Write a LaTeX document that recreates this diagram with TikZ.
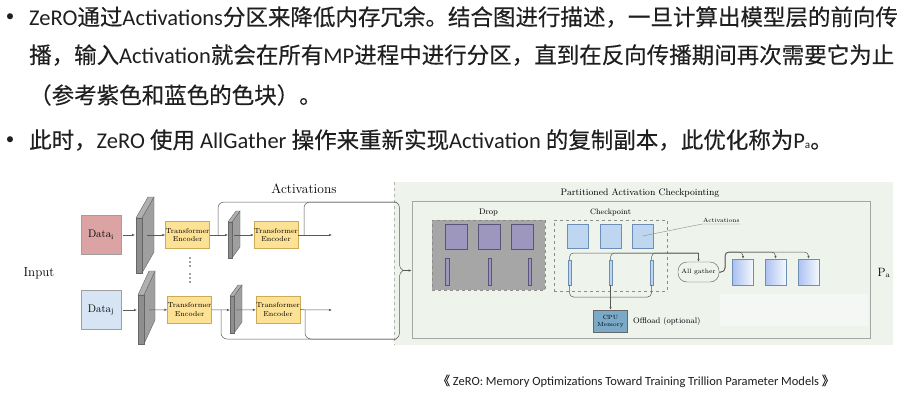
\documentclass[tikz,border=0pt]{standalone}
\usepackage{fontspec}
\newfontfamily\cjk[FakeBold=0.3]{Noto Sans CJK SC}
\newfontfamily\lat{Carlito}
\usetikzlibrary{arrows.meta,calc,decorations.pathreplacing}
\definecolor{datapink}{RGB}{219,163,163}
\definecolor{datablue}{RGB}{214,228,243}
\definecolor{teyellow}{RGB}{253,226,150}
\definecolor{teedge}{RGB}{205,170,85}
\definecolor{slabgray}{RGB}{142,142,142}
\definecolor{greenbg}{RGB}{238,243,236}
\definecolor{dropgray}{RGB}{166,166,166}
\definecolor{purp}{RGB}{157,150,190}
\definecolor{purpedge}{RGB}{90,85,120}
\definecolor{cblue}{RGB}{190,214,240}
\definecolor{cbedge}{RGB}{110,143,181}
\definecolor{cpublue}{RGB}{122,170,200}
\newcommand{\lmf}[1]{\fontsize{#1}{#1}\selectfont}
% thin box seen in perspective: x, y, width, height, dx, dy
\newcommand{\slab}[6]{%
\filldraw[draw=black!60, fill=slabgray!85] (#1+#3,#2) -- ++(#5,-#6) -- ++(0,#4) -- ++(-#5,#6) -- cycle;
\filldraw[draw=black!60, fill=slabgray!70] (#1,#2) -- ++(#5,-#6) -- ++(#3,0) -- ++(-#5,#6) -- cycle;
\filldraw[draw=black!60, fill=slabgray] (#1,#2) rectangle ++(#3,#4);}

\begin{document}
\begin{tikzpicture}[x=1pt,y=-1pt,
  conn/.style={draw=black!65, line width=0.5pt},
  >={Latex[length=3pt,width=2.4pt]},
  toptxt/.style={anchor=west, inner sep=0, text=black!88, font=\cjk\fontsize{22.5}{27}\selectfont},
  bullet/.style={inner sep=0, text=black!88, font=\lat\fontsize{17}{20}\selectfont},
  databox/.style={draw=gray!75, minimum width=40, minimum height=39, inner sep=0, font=\fontsize{11}{13}\selectfont},
  tebox/.style={draw=teedge, fill=teyellow, minimum width=44, minimum height=27, inner sep=0, align=center, font=\fontsize{7.2}{8.6}\selectfont},
  psq/.style={draw=purpedge, fill=purp, minimum width=22, minimum height=25, inner sep=0},
  pbar/.style={draw=purpedge, fill=purp, minimum width=3.5, minimum height=27, inner sep=0},
  bsq/.style={draw=cbedge, fill=cblue, minimum width=21.5, minimum height=24.5, inner sep=0},
  bbar/.style={draw=cbedge, fill=cblue, minimum width=3.5, minimum height=25, inner sep=0},
  gbox/.style={draw=cbedge, left color=cblue!90!blue, right color=white!85!cblue, minimum width=21, minimum height=26, inner sep=0}]
\useasboundingbox (0,0) rectangle (910,394);
\fill[white] (0,0) rectangle (910,394);

% text above the figure
\node[bullet] (b1) at (10,18) {•};
\node[toptxt] (l1) at (29,17) {{\lat ZeRO}通过{\lat Activations}分区来降低内存冗余。结合图进行描述，一旦计算出模型层的前向传};
\node[toptxt] (l2) at (29,55) {播，输入{\lat Activation}就会在所有{\lat MP}进程中进行分区，直到在反向传播期间再次需要它为止};
\node[toptxt] (l3) at (29,95) {（参考紫色和蓝色的色块）。};
\node[bullet] (b2) at (10,141) {•};
\node[toptxt] (l4) at (29,140) {此时，{\lat ZeRO} 使用 {\lat AllGather} 操作来重新实现{\lat Activation} 的复制副本，此优化称为{\lat P{\fontsize{11}{11}\selectfont a}}。};

% right part background first
\fill[greenbg] (394,182) rectangle (893,345);
\draw[dashed, black!30] (394,182) -- (394,345);

% left part: inputs and encoders
\node[font=\lmf{13}] (input) at (39,273) {Input};
\node[databox, fill=datapink] (di) at (101,235) {Data$_{\mathrm{i}}$};
\node[databox, fill=datablue] (dj) at (101,310) {Data$_{\mathrm{j}}$};
\node[font=\lmf{13.5}] (acts) at (304,189) {Activations};
\slab{136}{218}{6}{55}{12}{21}
\slab{138}{295}{6}{49}{11}{24}
\slab{228}{222}{4}{36}{8}{11}
\slab{230}{296}{4}{37}{8}{11}
\node[tebox] (te1) at (187.5,235) {Transformer\\Encoder};
\node[tebox] (te2) at (276,235) {Transformer\\Encoder};
\node[tebox] (te3) at (189.5,309.5) {Transformer\\Encoder};
\node[tebox] (te4) at (278,309.5) {Transformer\\Encoder};
\foreach \y in {258,262,266,274,278,282} \fill[black!75] (190,\y) circle (0.9);
\coordinate (s1in) at (135,235); \coordinate (s1out) at (147,235);
\coordinate (s2in) at (228,235); \coordinate (s2out) at (234,235);
\coordinate (s3in) at (137,310); \coordinate (s3out) at (149,310);
\coordinate (s4in) at (230,310); \coordinate (s4out) at (236,310);
\coordinate (o1) at (332,235); \coordinate (o2) at (332,310);
\draw[conn,->,shorten <=2pt] (di) -- (s1in); \draw[conn,->] (s1out) -- (te1);
\draw[conn,->] (te1) -- (s2in); \draw[conn,->] (s2out) -- (te2); \draw[conn,->] (te2) -- (o1);
\draw[conn,->,shorten <=2pt] (dj) -- (s3in); \draw[conn,->] (s3out) -- (te3);
\draw[conn,->] (te3) -- (s4in); \draw[conn,->] (s4out) -- (te4); \draw[conn,->] (te4) -- (o2);

% brace collecting the activations
\coordinate (k1) at (218,235); \coordinate (k2) at (304,235);
\coordinate (k3) at (221,310); \coordinate (k4) at (305,310);
\coordinate (bt) at (396,202); \coordinate (bb) at (396,339);
\draw[conn,rounded corners=6pt] (k1) |- (bt); \draw[conn,rounded corners=6pt] (k2) |- (bt);
\draw[conn,rounded corners=6pt] (k3) |- (bb); \draw[conn,rounded corners=6pt] (k4) |- (bb);
\draw[conn,decorate,decoration={brace,amplitude=7pt}] (bt) -- (bb);

% partitioned activation checkpointing
\node[font=\lmf{9.4}] (pact) at (640,193) {Partitioned Activation Checkpointing};
\node[draw=black!35, line width=0.7pt, minimum width=458, minimum height=137, inner sep=0] (pac) at (641,269.5) {};
\coordinate (tip) at (403,270.5);
\draw[conn,->] (tip) -- (tip -| pac.west);

\node[draw=black!45, dashed, fill=dropgray, minimum width=113, minimum height=70, inner sep=0] (drop) at (488.5,255) {};
\node[font=\lmf{8.1}] (dropl) at (488.5,213) {Drop};
\node[draw=black!45, dashed, minimum width=113, minimum height=71, inner sep=0] (ckpt) at (610.5,255.5) {};
\node[font=\lmf{7.8}] (ckptl) at (610.5,213) {Checkpoint};
\foreach \x [count=\i] in {456,489,522} \node[psq] (p\i) at (\x,236.5) {};
\foreach \x [count=\i] in {447,489.5,529.5} \node[pbar] (pb\i) at (\x,271.5) {};
\foreach \x [count=\i] in {577.5,610.5,642.5} \node[bsq] (cs\i) at (\x,236) {};
\foreach \x [count=\i] in {569.5,610.5,651.5} \node[bbar] (cb\i) at (\x,272.5) {};

\node[font=\lmf{6}, anchor=south west, inner sep=1pt] (actl) at (702,224) {Activations};
\draw[conn, draw=black!45, line width=0.4pt] (actl.south east) -- (actl.south west) -- (cs3.center);

\node[draw=black!65, fill=greenbg, rounded corners=9pt, minimum width=41, minimum height=20, inner sep=0, font=\lmf{6.3}] (ag) at (698.5,272) {All gather};
\foreach \x [count=\i] in {743,775.5,808.5} \node[gbox] (g\i) at (\x,272) {};
\node[draw=black!60, fill=cpublue, minimum width=34, minimum height=22, inner sep=0, align=center, font=\fontsize{6}{7}\selectfont] (cpu) at (610.5,321) {CPU\\Memory};
\node[anchor=west, inner sep=0, font=\lmf{8.1}] (offl) at (633,321) {Offload (optional)};

\coordinate (tb) at (698.5,253); \coordinate (bj) at (610.5,297); \coordinate (gt) at (725,252);
\foreach \i in {1,2,3} \draw[conn,rounded corners=4pt] (cb\i.north) |- (tb);
\draw[conn,->] (tb) -- (ag.north);
\draw[conn,rounded corners=4pt] (cb1.south) |- (bj); \draw[conn,rounded corners=4pt] (cb3.south) |- (bj);
\draw[conn,->] (cb2.south) -- (cpu.north);
\foreach \i in {1,2,3} \draw[conn,->,rounded corners=4pt] (ag.east) -| (gt) -| (g\i.north);

\fill[white, opacity=0.4] (720,294) rectangle (868,326);
\node[font=\lmf{12}] (pa) at (884,273) {$\mathrm{P}_{\mathrm{a}}$};

% source
\node[text=black!88, font=\lat\fontsize{12.5}{15}\selectfont] (cap) at (636,381) {{\cjk 《} ZeRO: Memory Optimizations Toward Training Trillion Parameter Models {\cjk 》}};
\end{tikzpicture}
\end{document}
